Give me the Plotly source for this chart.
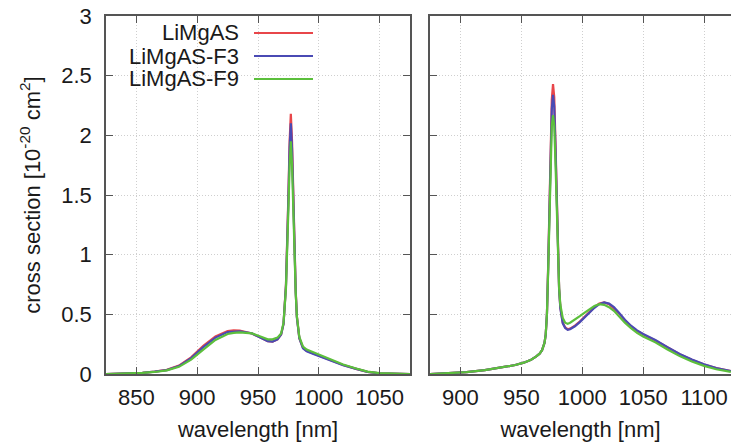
import plotly.graph_objects as go

# ---------------- data ----------------
series_names = ["LiMgAS", "LiMgAS-F3", "LiMgAS-F9"]
series_colors = ["#e8464a", "#4a4ab4", "#5cbf3c"]

# left panel (absorption)
abs_wl = [825, 840, 855, 865, 875, 885, 895, 905, 915, 925, 930, 935, 945, 952, 958, 962, 966, 969,
          971, 973, 974, 975, 976, 977, 978, 979, 980, 981, 982, 984, 987, 990, 995, 1000, 1010,
          1020, 1030, 1040, 1050, 1060, 1075]
abs_red = [0.0, 0.003, 0.01, 0.02, 0.035, 0.07, 0.14, 0.235, 0.315, 0.36, 0.365, 0.363, 0.34, 0.305,
           0.275, 0.272, 0.29, 0.33, 0.42, 0.75, 1.05, 1.5, 1.95, 2.18, 1.95, 1.5, 1.05, 0.7, 0.48,
           0.3, 0.22, 0.195, 0.175, 0.155, 0.11, 0.075, 0.045, 0.018, 0.006, 0.002, 0.0]
abs_blue = [0.0, 0.003, 0.01, 0.02, 0.033, 0.066, 0.133, 0.225, 0.305, 0.352, 0.358, 0.358, 0.34, 0.305,
            0.275, 0.272, 0.29, 0.33, 0.42, 0.74, 1.03, 1.46, 1.9, 2.10, 1.88, 1.45, 1.02, 0.69, 0.47,
            0.3, 0.215, 0.19, 0.17, 0.15, 0.108, 0.074, 0.045, 0.018, 0.006, 0.002, 0.0]
abs_green = [0.0, 0.003, 0.009, 0.017, 0.03, 0.06, 0.12, 0.205, 0.285, 0.335, 0.345, 0.348, 0.34, 0.315,
             0.29, 0.29, 0.305, 0.34, 0.43, 0.72, 0.98, 1.38, 1.75, 1.95, 1.75, 1.38, 0.98, 0.68, 0.48,
             0.31, 0.23, 0.205, 0.185, 0.165, 0.12, 0.08, 0.048, 0.02, 0.007, 0.002, 0.0]

# right panel (emission)
em_wl = [875, 890, 905, 920, 935, 945, 952, 958, 962, 965, 967, 969, 970, 971, 972, 973, 974, 975, 976,
         977, 978, 979, 980, 981, 982, 984, 986, 988, 990, 994, 998, 1002, 1006, 1010, 1014, 1018, 1022,
         1026, 1030, 1035, 1040, 1045, 1050, 1055, 1060, 1070, 1080, 1090, 1100, 1110, 1122]
em_red = [0.0, 0.005, 0.015, 0.032, 0.055, 0.075, 0.095, 0.12, 0.145, 0.17, 0.2, 0.26, 0.33, 0.5, 0.9,
          1.4, 1.9, 2.3, 2.43, 2.32, 1.95, 1.45, 1.0, 0.72, 0.56, 0.43, 0.39, 0.375, 0.38, 0.405, 0.44,
          0.48, 0.52, 0.56, 0.59, 0.60, 0.585, 0.55, 0.51, 0.45, 0.40, 0.36, 0.33, 0.305, 0.28, 0.22,
          0.165, 0.12, 0.08, 0.05, 0.025]
em_blue = [0.0, 0.005, 0.015, 0.032, 0.055, 0.075, 0.095, 0.12, 0.145, 0.17, 0.2, 0.26, 0.33, 0.5, 0.88,
           1.37, 1.85, 2.22, 2.34, 2.24, 1.9, 1.43, 0.99, 0.71, 0.55, 0.425, 0.385, 0.37, 0.375, 0.4,
           0.435, 0.475, 0.515, 0.555, 0.585, 0.60, 0.59, 0.56, 0.515, 0.455, 0.405, 0.365, 0.335, 0.31,
           0.285, 0.225, 0.168, 0.122, 0.082, 0.05, 0.025]
em_green = [0.0, 0.005, 0.015, 0.032, 0.055, 0.075, 0.095, 0.12, 0.145, 0.17, 0.2, 0.26, 0.33, 0.5, 0.86,
            1.32, 1.8, 2.08, 2.17, 2.08, 1.78, 1.35, 0.98, 0.72, 0.58, 0.47, 0.43, 0.42, 0.43, 0.455,
            0.485, 0.515, 0.545, 0.57, 0.585, 0.58, 0.56, 0.53, 0.485, 0.43, 0.385, 0.345, 0.315, 0.29,
            0.265, 0.205, 0.15, 0.105, 0.068, 0.04, 0.018]

left_ticks = [850, 900, 950, 1000, 1050]
right_ticks = [900, 950, 1000, 1050, 1100]
y_ticks = [0, 0.5, 1, 1.5, 2, 2.5, 3]

# ---------------- figure ----------------
W, H = 731, 446
FONT = "Liberation Sans, Arial, Helvetica, sans-serif"
FS = 22
TXT = "#1a1a1a"
LINE = "#555555"
GRID = "#cfcfcf"

fig = go.Figure()
abs_series = [abs_red, abs_blue, abs_green]
em_series = [em_red, em_blue, em_green]
for name, col, ya in zip(series_names, series_colors, abs_series):
    fig.add_trace(go.Scatter(x=abs_wl, y=ya, mode="lines", name=name, showlegend=False,
                             line=dict(color=col, width=2.2), xaxis="x", yaxis="y"))
for name, col, ye in zip(series_names, series_colors, em_series):
    fig.add_trace(go.Scatter(x=em_wl, y=ye, mode="lines", name=name, showlegend=False,
                             line=dict(color=col, width=2.2), xaxis="x2", yaxis="y2"))

xl0, xl1 = 106 / W, 410 / W
xr0 = 430 / W
yb, yt = (H - 374) / H, (H - 16) / H

axis_common = dict(showline=True, linecolor=LINE, linewidth=1.5, ticks="inside", ticklen=7,
                   tickcolor=LINE, tickwidth=1.2, showgrid=True, gridcolor=GRID, griddash="1px,2px",
                   gridwidth=1, zeroline=False, automargin=False,
                   tickfont=dict(family=FONT, size=FS, color=TXT))

fig.update_layout(
    width=W, height=H, margin=dict(l=0, r=0, t=0, b=0),
    paper_bgcolor="white", plot_bgcolor="white",
    font=dict(family=FONT, size=FS, color=TXT),
    xaxis=dict(domain=[xl0, xl1], range=[825, 1075], tickvals=left_ticks, anchor="y",
               mirror="allticks", ticklabelstandoff=3,
               title=dict(text="wavelength [nm]", font=dict(family=FONT, size=FS, color=TXT), standoff=12),
               **axis_common),
    yaxis=dict(domain=[yb, yt], range=[0, 3], tickvals=y_ticks, anchor="x",
               mirror="allticks", ticklabelstandoff=8,
               title=dict(text="cross section [10<sup>-20</sup> cm<sup>2</sup>]",
                          font=dict(family=FONT, size=FS, color=TXT), standoff=15),
               **axis_common),
    xaxis2=dict(domain=[xr0, 1], range=[875, 875 + (W - 430) / 1.218], tickvals=right_ticks, anchor="y2",
                mirror="allticks", ticklabelstandoff=3,
                title=dict(text="wavelength [nm]", font=dict(family=FONT, size=FS, color=TXT), standoff=12),
                **axis_common),
    yaxis2=dict(domain=[yb, yt], range=[0, 3], tickvals=y_ticks, anchor="x2",
                mirror=False, showticklabels=False, **axis_common),
)

# legend (text right-aligned, sample line to its right, as in the original)
leg_rows_px = [33, 56, 79]
for name, col, ypx in zip(series_names, series_colors, leg_rows_px):
    yp = 1 - ypx / H
    fig.add_annotation(x=241 / W, y=yp, xref="paper", yref="paper", text=name, showarrow=False,
                       xanchor="right", yanchor="middle",
                       font=dict(family=FONT, size=FS, color=TXT))
    fig.add_shape(type="line", xref="paper", yref="paper", x0=254 / W, x1=313 / W, y0=yp, y1=yp,
                  line=dict(color=col, width=2))

fig.write_html("out.html")
